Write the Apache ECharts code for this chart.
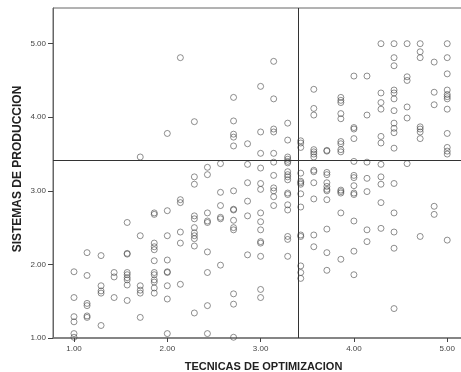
<!DOCTYPE html>
<html>
<head>
<meta charset="utf-8">
<script src="https://cdn.jsdelivr.net/npm/echarts@6/dist/echarts.min.js"></script>
<style>
  html, body { margin: 0; padding: 0; background: #fff; }
  #chart { width: 461px; height: 372px; }
</style>
</head>
<body>
<div id="chart"></div>
<script>
// niveles de TECNICAS DE OPTIMIZACION (eje x)
const tecnicas = [1.00, 1.14, 1.29, 1.43, 1.57, 1.71, 1.86, 2.00, 2.14, 2.29, 2.43, 2.57, 2.71, 2.86, 3.00,
  3.14, 3.29, 3.43, 3.57, 3.71, 3.86, 4.00, 4.14, 4.29, 4.43, 4.57, 4.71, 4.86, 5.00];

// SISTEMAS DE PRODUCCION para cada nivel de tecnicas
const sistemas = [
  [1.90, 1.55, 1.29, 1.22, 1.06, 1.01],
  [2.16, 1.85, 1.47, 1.44, 1.30, 1.28],
  [2.12, 1.71, 1.64, 1.61, 1.17],
  [1.89, 1.83, 1.55],
  [2.57, 2.15, 2.14, 1.89, 1.86, 1.82, 1.79, 1.72, 1.51],
  [3.46, 2.39, 1.71, 1.65, 1.61, 1.28],
  [2.70, 2.68, 2.29, 2.24, 2.20, 2.05, 1.89, 1.86, 1.79, 1.76, 1.68, 1.61],
  [3.78, 2.73, 2.39, 2.06, 1.90, 1.89, 1.71, 1.53, 1.06],
  [4.81, 2.88, 2.84, 2.44, 2.29, 1.73],
  [3.94, 3.19, 3.09, 2.66, 2.62, 2.50, 2.43, 2.39, 2.35, 2.25, 1.34],
  [3.32, 3.22, 2.70, 2.59, 2.57, 2.17, 1.89, 1.44, 1.06],
  [3.37, 2.98, 2.80, 2.64, 2.62, 1.99],
  [4.27, 3.95, 3.77, 3.73, 3.61, 3.00, 2.75, 2.74, 2.60, 2.50, 2.47, 1.60, 1.46, 1.01],
  [3.64, 3.36, 3.11, 2.86, 2.66, 2.13],
  [4.42, 3.80, 3.51, 3.31, 3.10, 3.02, 2.70, 2.58, 2.47, 2.31, 2.29, 2.11, 1.66, 1.55],
  [4.76, 4.25, 3.84, 3.80, 3.51, 3.39, 3.21, 3.04, 3.00, 2.92, 2.80],
  [3.92, 3.69, 3.46, 3.43, 3.40, 3.38, 3.26, 3.22, 3.19, 3.15, 2.97, 2.95, 2.81, 2.74, 2.38, 2.34, 2.11],
  [3.68, 3.65, 3.59, 3.24, 3.13, 3.11, 3.09, 2.96, 2.78, 2.40, 2.38, 1.98, 1.89, 1.81],
  [4.38, 4.12, 4.03, 3.56, 3.53, 3.50, 3.46, 3.28, 3.26, 3.11, 2.89, 2.40, 2.24],
  [3.55, 3.54, 3.25, 3.22, 3.11, 3.06, 3.02, 3.00, 2.88, 2.48, 2.16, 1.92],
  [4.27, 4.23, 4.20, 4.05, 3.98, 3.67, 3.64, 3.56, 3.53, 3.01, 2.99, 2.97, 2.70, 2.07],
  [4.56, 3.86, 3.84, 3.71, 3.40, 3.21, 3.18, 3.07, 2.97, 2.95, 2.59, 2.18, 1.86],
  [4.56, 4.03, 3.39, 3.17, 2.99, 2.47, 2.31],
  [5.00, 4.33, 4.20, 4.11, 3.74, 3.65, 3.36, 3.19, 3.09, 2.84, 2.49],
  [5.00, 4.81, 4.70, 4.37, 4.33, 4.25, 4.09, 3.92, 3.85, 3.79, 3.58, 3.10, 2.70, 2.44, 2.22, 1.40],
  [5.00, 4.55, 4.50, 4.14, 3.99, 3.37],
  [5.00, 4.89, 4.81, 3.87, 3.84, 3.80, 3.71, 2.38],
  [4.75, 4.34, 4.17, 2.79, 2.68],
  [5.00, 4.81, 4.59, 4.37, 4.31, 4.28, 4.25, 4.11, 3.78, 3.59, 3.54, 3.50, 2.33]
];

const ticks = [1, 2, 3, 4, 5];
// lineas de referencia
const refX = 3.40;
const refY = 3.42;

// armar los pares (x, y)
let puntos = [];
tecnicas.forEach((x, i) => {
  sistemas[i].forEach(y => puntos.push([x, y]));
});

const dom = document.getElementById('chart');
const myChart = echarts.init(dom, null, { renderer: 'canvas' });

const labelStyle = {
  color: '#444',
  fontFamily: 'Liberation Sans',
  fontSize: 8,
  formatter: v => v.toFixed(2)
};

const option = {
  backgroundColor: '#fff',
  animation: false,
  grid: {
    left: 53, top: 8, right: -2, bottom: 34,
    outerBoundsMode: 'none',
    containLabel: false,
    show: true, borderColor: '#666', borderWidth: 1
  },
  xAxis: {
    type: 'value',
    min: 0.775, max: 5.169,
    name: 'TECNICAS DE OPTIMIZACION',
    nameLocation: 'middle',
    nameGap: 23,
    nameTextStyle: { color: '#222', fontFamily: 'Liberation Sans', fontWeight: 'bold', fontSize: 11, padding: [0, 0, 0, 11] },
    splitLine: { show: false },
    axisLine: { lineStyle: { color: '#777', width: 1.5 } },
    axisTick: { length: 4, customValues: ticks, lineStyle: { color: '#444' } },
    axisLabel: Object.assign({ customValues: ticks, margin: 7 }, labelStyle)
  },
  yAxis: {
    type: 'value',
    min: 1, max: 5.485,
    name: 'SISTEMAS DE PRODUCCION',
    nameLocation: 'middle',
    nameMoveOverlap: false,
    nameGap: 29,
    nameTextStyle: { color: '#222', fontFamily: 'Liberation Sans', fontWeight: 'bold', fontSize: 12, padding: [0, 0, 0, 8] },
    splitLine: { show: false },
    axisLine: { show: true, lineStyle: { color: '#666', width: 1 } },
    axisTick: { show: true, length: 5, customValues: ticks, lineStyle: { color: '#444' } },
    axisLabel: Object.assign({ customValues: ticks, margin: 7 }, labelStyle)
  },
  series: [{
    type: 'scatter',
    data: puntos,
    symbol: 'circle',
    symbolSize: 6,
    itemStyle: { color: 'rgba(255,255,255,0)', borderColor: 'rgba(70,70,70,0.75)', borderWidth: 1 },
    markLine: {
      silent: true,
      symbol: 'none',
      label: { show: false },
      lineStyle: { color: '#333', width: 1, type: 'solid' },
      data: [{ xAxis: refX }, { yAxis: refY }]
    }
  }]
};

if (option && typeof option === 'object') {
  myChart.setOption(option);
}
</script>
</body>
</html>
